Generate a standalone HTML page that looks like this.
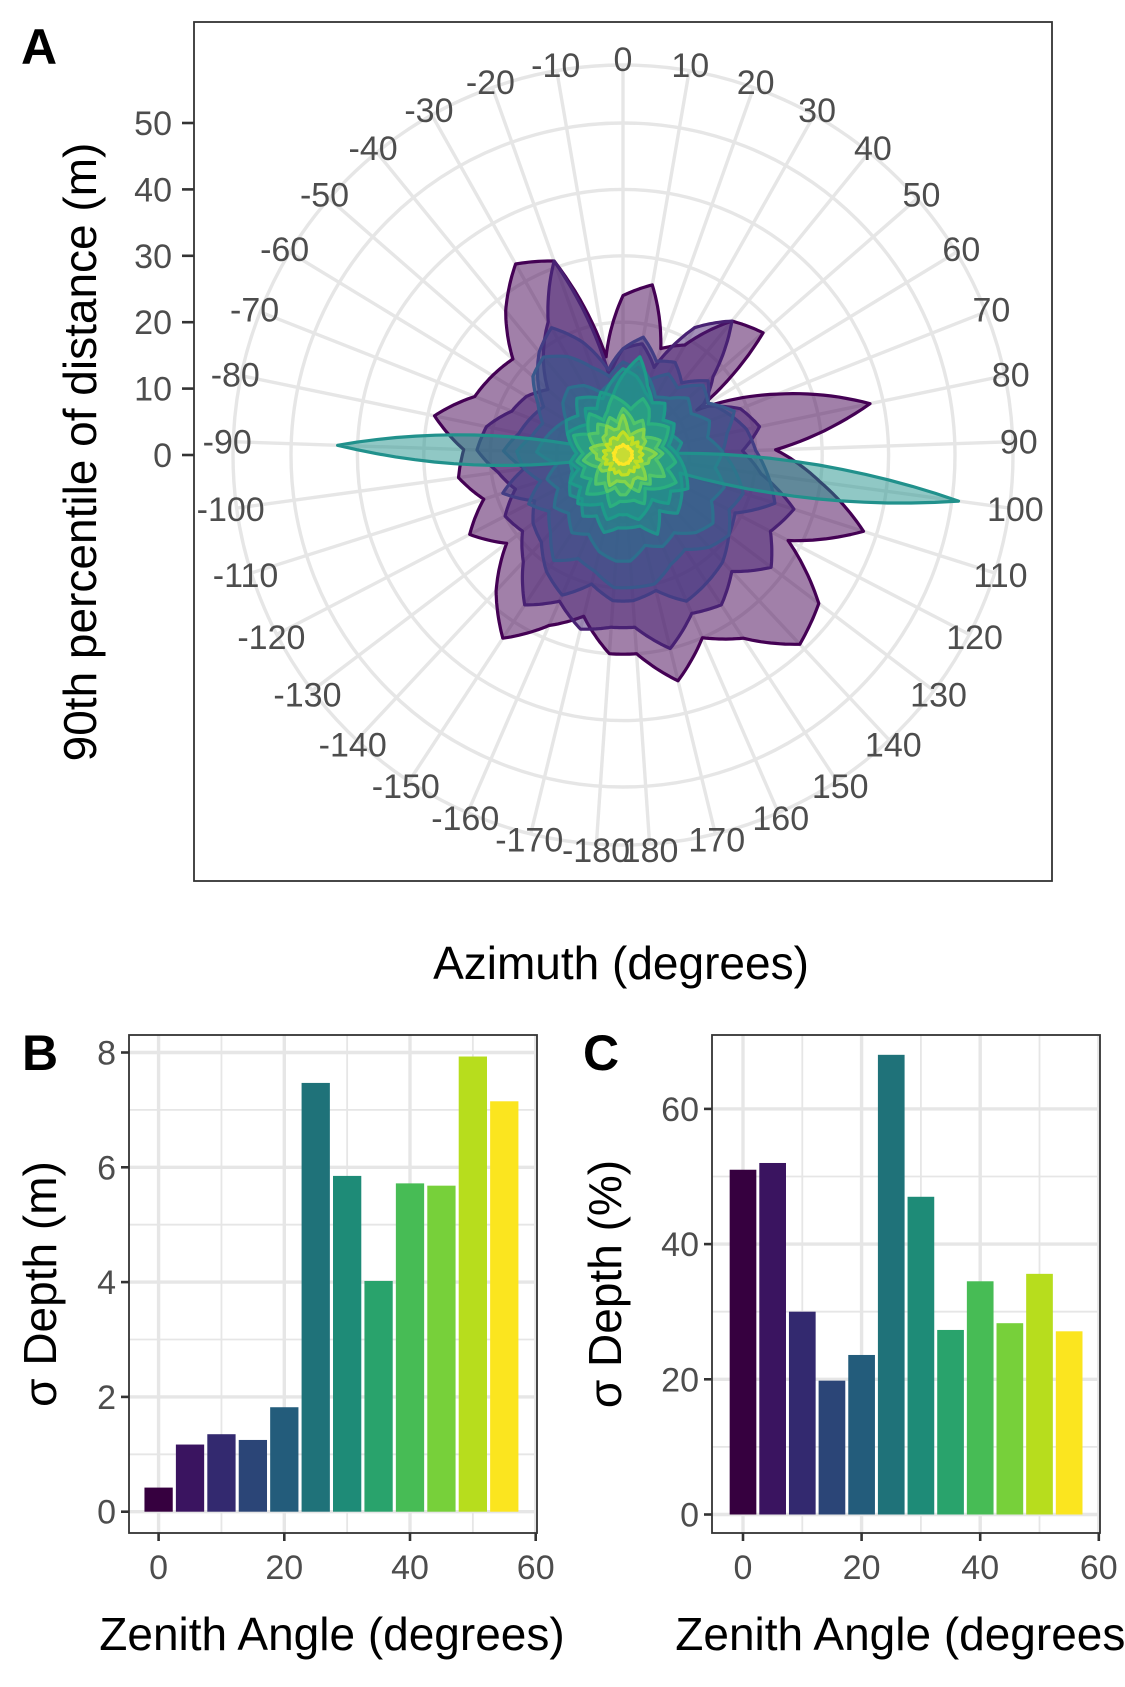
<!DOCTYPE html>
<html><head><meta charset="utf-8">
<style>
html,body{margin:0;padding:0;background:#fff;}
svg{display:block;font-family:"Liberation Sans",sans-serif;}
</style></head>
<body>
<svg id="fig" width="1125" height="1687" viewBox="0 0 1125 1687" xmlns="http://www.w3.org/2000/svg">
<rect x="0" y="0" width="1125" height="1687" fill="#fff"/>
<g id="panelA"></g>
<g id="panelB"></g>
<g id="panelC"></g>
</svg>
<script>
// ---------- Panel A data ----------
const azimuths = [-180,-170,-160,-150,-140,-130,-120,-110,-100,-90,-80,-70,-60,-50,-40,-30,-20,-10,0,10,20,30,40,50,60,70,80,90,100,110,120,130,140,150,160,170,180];
const rTicks = [0,10,20,30,40,50];
const azLabels = [-180,-170,-160,-150,-140,-130,-120,-110,-100,-90,-80,-70,-60,-50,-40,-30,-20,-10,0,10,20,30,40,50,60,70,80,90,100,110,120,130,140,150,160,170,180];
const seriesColors = ["#440154","#482173","#433E85","#38598C","#2D708E","#21918c","#1E9B8A","#2BB07F","#51C56A","#85D54A","#C2DF23","#FDE725"];
const s0 = [30,25,28,33,28,22,26,22,25,24,29,24,23,22,28,33,31,15,24,26,17,19,26,28,13,25,38,23,30,38,28,37,39,33,30,35,30];
const s1 = [26,27,24,27,22,19,20,17,19,22,21,18,17,15,19,23,31,12,16,17,14,22,26,18,14,19,21,18,21,27,25,28,24,27,26,30,26];
const s2 = [22,20,23,21,18,17,15,19,15,18,16,15,14,17,20,22,18,13,16,18,15,16,14,17,15,17,19,20,22,24,19,20,22,23,24,21,22];
const s3 = [20,18,17,19,16,14,16,13,15,16,14,13,15,18,19,17,14,12,14,13,12,14,13,16,15,18,16,15,17,19,18,20,19,17,18,20,20];
const s4 = [16,15,13,14,12,13,11,12,10,13,12,11,10,12,13,12,10,11,12,14,12,10,11,13,12,14,13,15,14,16,15,17,16,14,15,14,16];
const s5 = [11,12,10,11,9,10,9,8,8,43,8,9,10,9,11,10,9,11,13,12,10,9,10,8,9,8,9,8,51,9,10,11,12,10,13,11,11];
const s6 = [9,10,8,9,10,8,9,7,8,7,8,9,8,7,9,8,10,9,12,15,11,9,10,8,9,8,7,8,9,10,11,9,10,8,9,10,9];
const s7 = [7,8,6,7,8,6,7,6,7,6,7,8,6,7,8,6,7,9,8,7,9,8,6,7,8,7,6,7,8,7,9,8,7,6,8,7,7];
const s8 = [6,5,6,5,6,5,4,5,6,5,4,5,6,5,6,5,6,5,7,6,5,6,5,4,5,6,5,6,5,6,7,5,6,5,6,5,6];
const s9 = [4,4,5,4,3,4,4,3,4,4,5,4,3,4,4,5,4,4,6,4,3,4,5,4,4,3,4,5,4,4,3,4,5,4,4,5,4];
const s10 = [3,2.5,3,2.5,3,2,3,2.5,3,2.5,3,2,3,2.5,3,3,2.5,3,3.5,3,2.5,3,2,3,2.5,3,2.5,3,2.5,3,2,3,2.5,3,2.5,3,3];
const s11 = [1.4,1.3,1.5,1.3,1.4,1.2,1.5,1.3,1.4,1.3,1.5,1.2,1.4,1.3,1.5,1.3,1.4,1.3,1.6,1.4,1.3,1.5,1.2,1.4,1.3,1.5,1.3,1.4,1.3,1.5,1.2,1.4,1.3,1.5,1.3,1.4,1.4];
const allSeries = [s0,s1,s2,s3,s4,s5,s6,s7,s8,s9,s10,s11];

// ---------- Panel B/C data ----------
const zenith = [0,5,10,15,20,25,30,35,40,45,50,55];
const sdDepthM = [0.42,1.17,1.35,1.25,1.82,7.47,5.85,4.02,5.72,5.68,7.93,7.15];
const sdDepthPct = [51,52,30,19.8,23.6,68,47,27.3,34.5,28.3,35.6,27.1];
const barColors = ["#36003f","#3a1460","#33296f","#2b4577","#235c7b","#1f7279","#1e8b77","#29a36c","#47bc55","#77d03a","#b7dd1d","#fbe51f"];
const bYTicks = [0,2,4,6,8];
const bYMinor = [1,3,5,7];
const cYTicks = [0,20,40,60];
const cYMinor = [10,30,50];
const xTicks = [0,20,40,60];
const xMinor = [10,30,50];

const NS = "http://www.w3.org/2000/svg";
function mk(tag, attrs, parent){
  const e = document.createElementNS(NS, tag);
  for (const k in attrs) e.setAttribute(k, attrs[k]);
  parent.appendChild(e);
  return e;
}
const GRID = "#e6e6e6", TXT = "#4d4d4d", TICKFS = 34, TITLEFS = 46;

// ---------- Panel A ----------
(function(){
  const g = document.getElementById('panelA');
  const cx = 623, cy = 455, pxPerM = 6.64, outerR = 390;
  const angOf = az => az * 360 / 368 * Math.PI / 180;
  const rOf = v => v * pxPerM;
  const pt = (az, v) => [cx + rOf(v) * Math.sin(angOf(az)), cy - rOf(v) * Math.cos(angOf(az))];

  const box = mk('rect', {x:194, y:22, width:858, height:859, fill:'none', stroke:'#333', 'stroke-width':1.8}, g);
  
  

  rTicks.forEach(t => {
    if (t === 0) return;
    const c = mk('circle', {cx:cx, cy:cy, r:rOf(t), fill:'none', stroke:GRID, 'stroke-width':3.4}, g);
    
    
  });
  const oc = mk('circle', {cx:cx, cy:cy, r:outerR, fill:'none', stroke:GRID, 'stroke-width':3.4}, g);
  
  
  azLabels.forEach(a => {
    const th = angOf(a);
    const l = mk('line', {x1:cx, y1:cy, x2:cx + outerR*Math.sin(th), y2:cy - outerR*Math.cos(th), stroke:GRID, 'stroke-width':3.4}, g);
    
    
  });

  allSeries.forEach((vals, si) => {
    const pts = [];
    const n = azimuths.length;
    for (let i = 0; i < n; i++) {
      const a0 = azimuths[i], v0 = vals[i];
      const a1 = i < n-1 ? azimuths[i+1] : azimuths[0] + 368;
      const v1 = i < n-1 ? vals[i+1] : vals[0];
      const steps = 12;
      for (let k = 0; k < steps; k++) {
        const t = k / steps;
        pts.push(pt(a0 + (a1 - a0) * t, v0 + (v1 - v0) * t));
      }
    }
    const p = mk('polygon', {points: pts.map(q => q[0].toFixed(1)+','+q[1].toFixed(1)).join(' '),
      fill: seriesColors[si], 'fill-opacity':0.5, stroke: seriesColors[si], 'stroke-width':3.2, 'stroke-linejoin':'round'}, g);
    
    
  });

  azLabels.forEach(a => {
    const th = angOf(a);
    const R = 396;
    const t = mk('text', {x:cx + R*Math.sin(th), y:cy - R*Math.cos(th) + 12, 'font-size':TICKFS, fill:TXT, 'text-anchor':'middle'}, g);
    t.textContent = a;
    
    
  });

  rTicks.forEach(v => {
    const y = cy - rOf(v);
    const tk = mk('line', {x1:182, y1:y, x2:194, y2:y, stroke:'#333', 'stroke-width':2.6}, g);
    
    
    const t = mk('text', {x:172, y:y + 12, 'font-size':TICKFS, fill:TXT, 'text-anchor':'end'}, g);
    t.textContent = v;
    
    
  });

  const yt = mk('text', {x:0, y:0, 'font-size':TITLEFS, fill:'#000', 'text-anchor':'middle', transform:'translate(96,452) rotate(-90)'}, g);
  yt.textContent = '90th percentile of distance (m)';
  
  
  const xt = mk('text', {x:621, y:979, 'font-size':TITLEFS, fill:'#000', 'text-anchor':'middle'}, g);
  xt.textContent = 'Azimuth (degrees)';
  
  
  const lab = mk('text', {x:21, y:64, 'font-size':50, 'font-weight':'bold', fill:'#000'}, g);
  lab.textContent = 'A';
  
  
})();

// ---------- Bar panels ----------
function barPanel(gid, cfg, values, yTicks, yMinor, title, letter, letterX, titleX, ytitleX){
  const g = document.getElementById(gid);
  const xs = v => cfg.x0 + v * cfg.xs;
  const ys = v => cfg.y0 - v * cfg.ys;
  const clipId = gid + '-clip';
  const cp = mk('clipPath', {id:clipId}, g);
  mk('rect', {x:cfg.L, y:cfg.T, width:cfg.R-cfg.L, height:cfg.B-cfg.T}, cp);
  const inner = mk('g', {'clip-path':'url(#'+clipId+')'}, g);
  yMinor.forEach(v => { const l = mk('line', {x1:cfg.L, x2:cfg.R, y1:ys(v), y2:ys(v), stroke:GRID, 'stroke-width':1.8}, inner);
      });
  xMinor.forEach(v => { const l = mk('line', {x1:xs(v), x2:xs(v), y1:cfg.T, y2:cfg.B, stroke:GRID, 'stroke-width':1.8}, inner);
      });
  yTicks.forEach(v => { const l = mk('line', {x1:cfg.L, x2:cfg.R, y1:ys(v), y2:ys(v), stroke:GRID, 'stroke-width':3.4}, inner);
      });
  xTicks.forEach(v => { const l = mk('line', {x1:xs(v), x2:xs(v), y1:cfg.T, y2:cfg.B, stroke:GRID, 'stroke-width':3.4}, inner);
      });
  values.forEach((v, i) => {
    const x = xs(zenith[i] - 2.25), w = 4.5 * cfg.xs;
    const r = mk('rect', {x:x, y:ys(v), width:w, height:ys(0)-ys(v), fill:barColors[i]}, inner);
    
    
  });
  const bx = mk('rect', {x:cfg.L, y:cfg.T, width:cfg.R-cfg.L, height:cfg.B-cfg.T, fill:'none', stroke:'#333', 'stroke-width':1.8}, g);
   
  yTicks.forEach(v => {
    const tk = mk('line', {x1:cfg.L-8, x2:cfg.L, y1:ys(v), y2:ys(v), stroke:'#333', 'stroke-width':2.6}, g);
     
    const t = mk('text', {x:cfg.L-13, y:ys(v)+12, 'font-size':TICKFS, fill:TXT, 'text-anchor':'end'}, g);
    t.textContent = v;
     
  });
  xTicks.forEach(v => {
    const tk = mk('line', {x1:xs(v), x2:xs(v), y1:cfg.B, y2:cfg.B+8, stroke:'#333', 'stroke-width':2.6}, g);
     
    const t = mk('text', {x:xs(v), y:cfg.B+46, 'font-size':TICKFS, fill:TXT, 'text-anchor':'middle'}, g);
    t.textContent = v;
     
  });
  const xt = mk('text', {x:titleX, y:1650, 'font-size':TITLEFS, fill:'#000', 'text-anchor':'middle'}, g);
  xt.textContent = 'Zenith Angle (degrees)';
   
  const yt = mk('text', {x:0, y:0, 'font-size':TITLEFS, fill:'#000', 'text-anchor':'middle', transform:'translate('+ytitleX+','+((cfg.T+cfg.B)/2)+') rotate(-90)'}, g);
  yt.textContent = title;
   
  const lb = mk('text', {x:letterX, y:1070, 'font-size':50, 'font-weight':'bold', fill:'#000'}, g);
  lb.textContent = letter;
   
}
barPanel('panelB', {L:129, R:537, T:1035, B:1533, x0:158.6, xs:6.285, y0:1511.7, ys:57.4},
  sdDepthM, bYTicks, bYMinor, 'σ Depth (m)', 'B', 22, 332, 56);
barPanel('panelC', {L:712, R:1100, T:1035, B:1533, x0:743, xs:5.93, y0:1514.5, ys:6.76},
  sdDepthPct, cYTicks, cYMinor, 'σ Depth (%)', 'C', 583, 908, 621);
</script>
</body></html>
